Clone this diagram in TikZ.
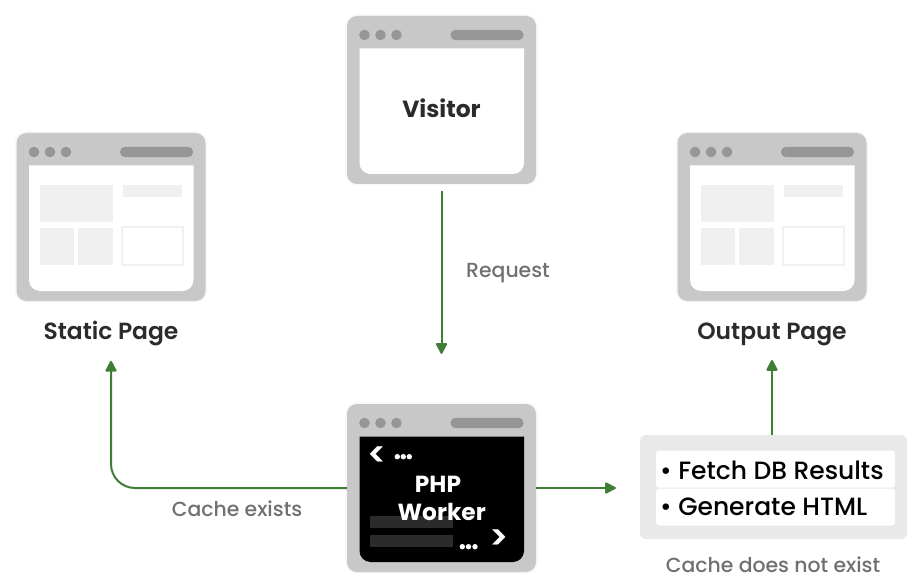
\documentclass[tikz,border=0pt]{standalone}
\usepackage{fontspec}
\setmainfont{Poppins}
\newfontface\midface{Poppins SemiBold}
\newfontface\softface{Poppins Medium}
\usetikzlibrary{positioning,arrows.meta}
\definecolor{frame}{HTML}{C8C8C8}
\definecolor{knob}{HTML}{969696}
\definecolor{pale}{HTML}{F0F0F0}
\definecolor{inkdark}{HTML}{2B2B2B}
\definecolor{inkgrey}{HTML}{6F7074}
\definecolor{leaf}{HTML}{3F7F35}
\definecolor{panel}{HTML}{E9E9E9}
\definecolor{slab}{HTML}{2B2B2B}
\tikzset{
  window/.style={fill=frame, preaction={draw=black!3, line width=3pt}, rounded corners=10pt, minimum width=189pt, minimum height=168pt, inner sep=0pt},
  title/.style={text=inkdark, anchor=base, font=\fontsize{23.4}{28}\midface},
  note/.style={text=inkgrey, anchor=base, font=\fontsize{20.4}{24}\softface},
  flow/.style={draw=leaf, line width=2pt, -{Triangle[length=12pt,width=12pt,round]}},
  row/.style={fill=white, rounded corners=3pt, minimum width=239pt, minimum height=37pt, inner sep=0pt},
  rowtext/.style={text=black, font=\fontsize{25}{28}\softface, anchor=base west, inner sep=0pt},
  code/.style={text=white, anchor=base, font=\fontsize{23.3}{28}\selectfont\bfseries, inner sep=0pt},
  tag/.style={text=white, font=\fontsize{34}{34}\midface, inner sep=0pt},
}
% title bar and screen of a window node
\newcommand{\windowparts}[2]{
  \begin{scope}[shift={(#1.center)}]
    \foreach \dx in {-77,-61,-45} \fill[knob] (\dx,65) circle (5.3);
    \fill[knob, rounded corners=5pt] (9,70.2) rectangle (82,59.8);
    \fill[#2] (-82,51.5) [rounded corners=11pt] -- (-82,-74) -- (82.5,-74) [sharp corners] -- (82.5,51.5) -- cycle;
  \end{scope}
}
% grey blocks of a page
\newcommand{\pageblocks}[1]{
  \begin{scope}[shift={(#1.center)}]
    \fill[pale] (-71,32) rectangle (2,-5);
    \fill[pale] (12,32) rectangle (71,20);
    \fill[pale] (-71,-11) rectangle (-37,-48);
    \fill[pale] (-33,-11) rectangle (2,-48);
    \draw[pale, line width=1.5pt] (11,-10) rectangle (72,-48);
  \end{scope}
}
\begin{document}
\begin{tikzpicture}[x=1pt, y=1pt]
\useasboundingbox (0,0) rectangle (924,-588);
\node(Visitor) [window] at (441.5,-100) {};
\node(Worker) [window, below of=Visitor, node distance=388pt] {};
\node(Static) [window] at (111,-217) {};
\node(Output) [window, right of=Static, node distance=661pt] {};
\windowparts{Visitor}{white}
\windowparts{Worker}{black}
\windowparts{Static}{white}
\windowparts{Output}{white}
\pageblocks{Static}
\pageblocks{Output}
\node(VisitorText) [title, font=\fontsize{23.4}{28}\selectfont\bfseries] at (441.5,-117.5) {Visitor};
\node(StaticText) [title, below of=Static, node distance=117pt] {Static Page};
\node(OutputText) [title, below of=Output, node distance=117pt] {Output Page};
\fill[slab] (370,-516) rectangle (453,-528);
\fill[slab] (370,-535) rectangle (453,-547);
\node(OpenTag) [tag] at (377,-456.5) {<};
\foreach \dx in {397.3,403.3,409.3} \fill[white] (\dx,-456.7) circle (2.7);
\node(PhpText) [code] at (438,-492) {PHP};
\node(WorkerText) [code] at (441.7,-520) {Worker};
\foreach \dx in {462.3,468.5,475} \fill[white] (\dx,-546.7) circle (2.7);
\node(CloseTag) [tag] at (498.7,-539.3) {>};
\node(Panel) [fill=panel, rounded corners=6pt, minimum width=267pt, minimum height=104pt, inner sep=0pt] at (773.5,-487) {};
\node(FetchRow) [row] at (775.5,-469) {};
\node(HtmlRow) [row, below of=FetchRow, node distance=38pt] {};
\node(FetchText) [rowtext] at (660,-479.5) {• Fetch DB Results};
\node(HtmlText) [rowtext] at (660,-515.5) {• Generate HTML};
\node(RequestNote) [note] at (508,-277.5) {Request};
\node(ExistsNote) [note] at (237,-516.5) {Cache exists};
\node(MissNote) [note] at (773,-572.5) {Cache does not exist};
\draw[flow, shorten <=7pt, shorten >=50pt] (Visitor) -- (Worker);
\draw[flow, rounded corners=24pt, shorten >=11pt] (Worker.west) -| (StaticText.south);
\draw[flow, shorten >=24pt] (Worker.east) -- (Worker.east -| Panel.west);
\draw[flow, shorten >=11pt] (Panel.north -| OutputText.south) -- (OutputText.south);
\end{tikzpicture}
\end{document}
